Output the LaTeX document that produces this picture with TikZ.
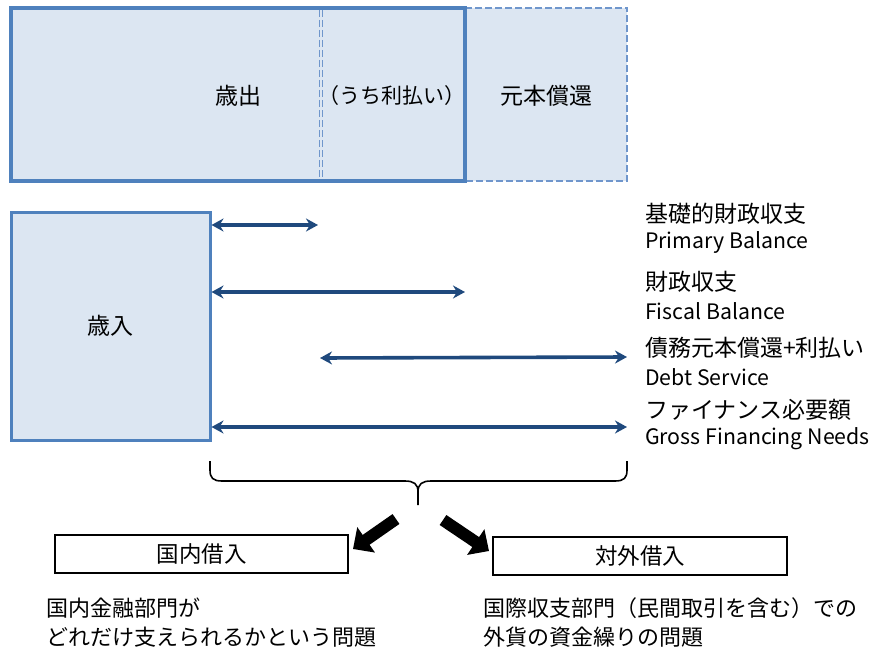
\documentclass[tikz,border=0pt]{standalone}
\usepackage{fontspec}
\setmainfont{Noto Sans CJK JP}
\usetikzlibrary{arrows.meta}
\definecolor{boxfill}{HTML}{DCE6F2}
\definecolor{boxline}{HTML}{4F81BD}
\definecolor{dashline}{HTML}{6F96CC}
\definecolor{arrowblue}{HTML}{1F497D}
\begin{document}
\begin{tikzpicture}[x=1pt,y=-1pt,
  jtext/.style={font=\fontsize{22}{26}\selectfont, inner sep=0pt},
  ltext/.style={font=\fontsize{22}{26}\selectfont, inner sep=0pt, anchor=west},
  rtext/.style={font=\fontsize{23}{26}\selectfont, inner sep=0pt, anchor=west},
  etext/.style={font=\fontsize{21.3}{24}\selectfont, inner sep=0pt, anchor=west},
  dbl/.style={arrowblue, line width=3.6pt, {Stealth[length=12pt,width=13pt]}-{Stealth[length=12pt,width=13pt]}},
  bigarrow/.style={line width=12pt, -{Triangle[length=16pt,width=30pt]}},
  outbox/.style={draw=black, line width=1.8pt, inner sep=0pt, font=\fontsize{22.5}{26}\selectfont},
  bracestyle/.style={line width=1.6pt, black}
]
\useasboundingbox (0,0) rectangle (874,650);

% principal repayment box (dashed)
\node[fill=boxfill, minimum width=162pt, minimum height=173pt, inner sep=0pt] (prin) at (546,94.5) {};
\draw[dashline, line width=1.6pt, dash pattern=on 7pt off 3pt] (prin.north west) -- (prin.north east) -- (prin.south east) -- (prin.south west);
% expenditure box
\node[fill=boxfill, draw=boxline, line width=3.2pt, minimum width=454pt, minimum height=173pt, inner sep=0pt] (exp) at (238,94.5) {};
\coordinate (dv1) at (321,10);
\coordinate (dv2) at (321,179);
\draw[dashline, line width=1.1pt, dash pattern=on 7pt off 3pt] ([xshift=-1.4pt]dv1) -- ([xshift=-1.4pt]dv2) ([xshift=1.4pt]dv1) -- ([xshift=1.4pt]dv2);
\node[jtext, font=\fontsize{23}{26}\selectfont] (expl) at (238,96) {歳出};
\node[jtext, font=\fontsize{21}{26}\selectfont] (intl) at (392,96) {（うち利払い）};
\node[jtext, font=\fontsize{23}{26}\selectfont] (prinl) at (546,96) {元本償還};

% revenue box
\node[fill=boxfill, draw=boxline, line width=3pt, minimum width=199pt, minimum height=228pt, inner sep=0pt, font=\fontsize{23}{26}\selectfont] (rev) at (110.5,326) {歳入};

% arrows
\coordinate (a1) at (318,225);
\coordinate (a2) at (465,292);
\coordinate (a3s) at (320,358);
\coordinate (a3e) at (627,357);
\coordinate (a4) at (627,427);
\draw[dbl] (rev.east |- a1) -- (a1);
\draw[dbl] (rev.east |- a2) -- (a2);
\draw[dbl] (a3s) -- (a3e);
\draw[dbl] (rev.east |- a4) -- (a4);

% labels
\node[rtext] (pbj) at (645,214) {基礎的財政収支};
\node[etext] (pbe) at (645,243) {Primary Balance};
\node[rtext] (fbj) at (645,282) {財政収支};
\node[etext] (fbe) at (645,311) {Fiscal Balance};
\node[rtext] (dsj) at (645,348) {債務元本償還+利払い};
\node[etext] (dse) at (645,377) {Debt Service};
\node[rtext] (gfj) at (645,410) {ファイナンス必要額};
\node[etext] (gfe) at (645,439) {Gross Financing Needs};

% brace
\coordinate (bl) at (210,461);
\coordinate (br) at (627,461);
\coordinate (bt) at (418,505);
\draw[bracestyle] (bl) -- (210,470) .. controls (210,478) and (213,481) .. (222,481) -- (405,481) .. controls (414,481) and (418,484) .. (418,492) -- (bt);
\draw[bracestyle] (br) -- (627,470) .. controls (627,478) and (624,481) .. (615,481) -- (431,481) .. controls (422,481) and (418,484) .. (418,492);

% bottom boxes
\node[outbox, minimum width=293pt, minimum height=38pt] (dom) at (201.5,554) {国内借入};
\node[outbox, minimum width=294pt, minimum height=38pt] (ext) at (640,556) {対外借入};

% big arrows
\coordinate (la) at (396,519);
\coordinate (lt) at (353,549);
\coordinate (ra) at (443,520);
\coordinate (rt) at (489,551);
\draw[bigarrow] (la) -- (lt);
\draw[bigarrow] (ra) -- (rt);

% bottom texts
\node[ltext] (d1) at (46,608) {国内金融部門が};
\node[ltext] (d2) at (46,637) {どれだけ支えられるかという問題};
\node[ltext] (e1) at (483,608) {国際収支部門（民間取引を含む）での};
\node[ltext] (e2) at (483,637) {外貨の資金繰りの問題};
\end{tikzpicture}
\end{document}
